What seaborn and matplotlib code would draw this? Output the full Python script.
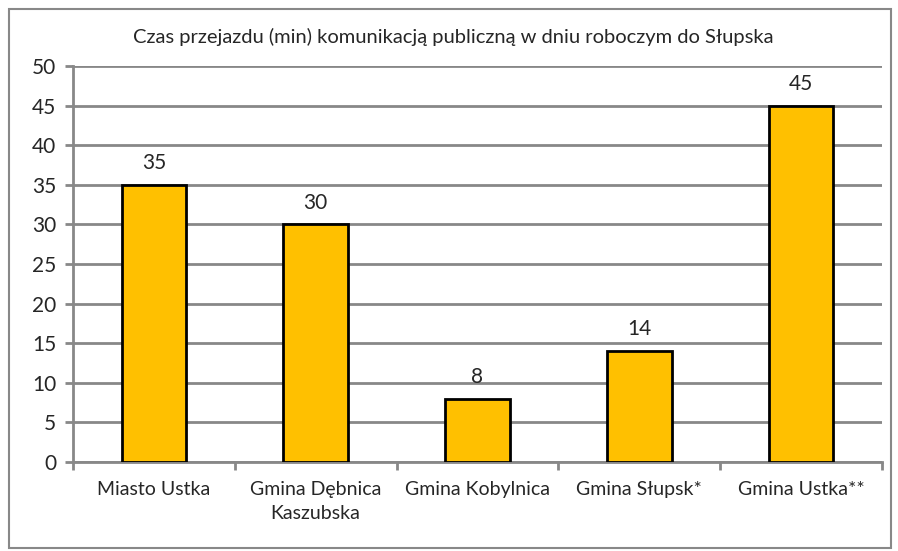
import matplotlib
matplotlib.use("Agg")
import matplotlib.pyplot as plt
import seaborn as sns
import pandas as pd
from matplotlib.patches import Rectangle

categories = ["Miasto Ustka", "Gmina Dębnica\nKaszubska", "Gmina Kobylnica", "Gmina Słupsk*", "Gmina Ustka**"]
values = [35, 30, 8, 14, 45]
title = "Czas przejazdu (min) komunikacją publiczną w dniu roboczym do Słupska"

sns.set_style("white")
plt.rcParams['font.family'] = ['Lato', 'DejaVu Sans']

df = pd.DataFrame({'gmina': categories, 'czas': values})

fig = plt.figure(figsize=(8.98, 5.51), dpi=100)
ax = fig.add_axes([0.0813, 0.1615, 0.9007, 0.7185])

sns.barplot(data=df, x='gmina', y='czas', color='#FFC000', width=0.4,
            edgecolor='black', linewidth=2, saturation=1, ax=ax, zorder=3)

ax.set_ylim(0, 50)
ax.set_xlim(-0.5, len(categories) - 0.5)
ax.set_yticks(range(0, 51, 5))
ax.yaxis.grid(True, color='#888888', linewidth=2, zorder=0)
ax.set_axisbelow(True)
for s in ['top', 'right']:
    ax.spines[s].set_visible(False)
ax.spines['left'].set_color('#888888')
ax.spines['left'].set_linewidth(2)
ax.spines['bottom'].set_color('#888888')
ax.spines['bottom'].set_linewidth(2)
ax.tick_params(axis='y', length=6, width=2, color='#888888', labelsize=15, pad=6, left=True)
ax.tick_params(axis='x', length=0, labelsize=14, pad=14)
for lab in ax.get_xticklabels():
    lab.set_linespacing(1.45)
# category boundary ticks
ax.set_xticks([i - 0.5 for i in range(len(categories) + 1)], minor=True)
ax.tick_params(axis='x', which='minor', length=6, width=2, color='#888888', bottom=True)
ax.set_xlabel('')
ax.set_ylabel('')

for i, v in enumerate(values):
    ax.text(i, v + 1.5, str(v), ha='center', va='bottom', fontsize=15)

fig.text(0.505, 0.933, title, ha='center', va='center', fontsize=14.5)
fig.patches.append(Rectangle((0.01, 0.006), 0.982, 0.978, transform=fig.transFigure,
                             fill=False, edgecolor='#888888', linewidth=1.5))

fig.savefig('out.png', dpi=100)
